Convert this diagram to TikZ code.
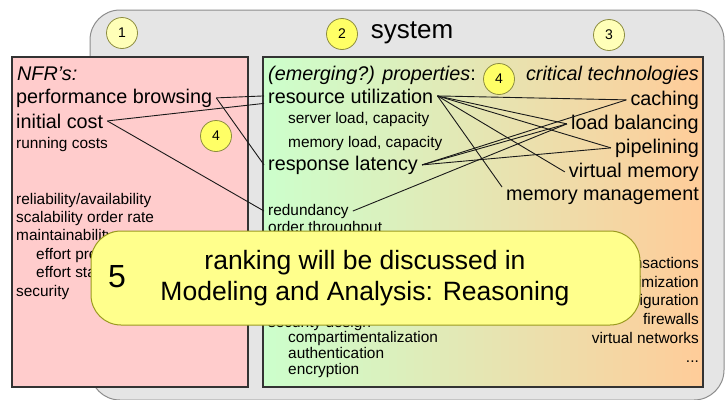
\documentclass[tikz,border=0pt]{standalone}
\usepackage{fontspec}
\setmainfont{Liberation Sans}
\definecolor{sysgrey}{HTML}{E5E5E5}
\definecolor{sysline}{HTML}{8C8C8C}
\definecolor{nfrpink}{HTML}{FFCCCC}
\definecolor{propgreen}{HTML}{CCFFCC}
\definecolor{techorange}{HTML}{FFCC99}
\definecolor{boxline}{HTML}{333333}
\definecolor{brightnum}{HTML}{FFFF66}
\definecolor{palenum}{HTML}{FFFFB8}
\definecolor{numline}{HTML}{8C8C40}
\definecolor{rankfill}{HTML}{FFFF8C}
\definecolor{rankline}{HTML}{9A9A20}

\begin{document}
\begin{tikzpicture}[x=1pt,y=-1pt]
\tikzstyle{every node}=[inner sep=0pt];
\tikzstyle{big}=[font=\fontsize{19.8}{22}\selectfont];
\tikzstyle{small}=[font=\fontsize{15.4}{17}\selectfont];
\tikzstyle{link}=[inner xsep=4pt];
\tikzstyle{num}=[circle,draw=numline,line width=0.8pt,minimum size=31pt,font=\fontsize{14}{16}\selectfont];
\tikzstyle{panel}=[draw=boxline,line width=1.2pt];
\tikzstyle{rel}=[draw=black!90,line width=0.9pt];
\useasboundingbox (0,0) rectangle (725,399);
% system frame
\node (sys) [draw=sysline,fill=sysgrey,line width=1pt,rounded corners=30pt,minimum width=634pt,minimum height=390pt] at (407,205) {};
\node (title) [anchor=base,font=\fontsize{26}{28}\selectfont] at (412,38) {system};
\node (one) [num,fill=palenum] at (122,33) {1};
\node (two) [num,fill=brightnum] at (342,34) {2};
\node (three) [num,fill=palenum] at (609,35) {3};
% the two panels
\node (nfrbox) [panel,fill=nfrpink,minimum width=236pt,minimum height=330pt] at (130,222) {};
\node (techbox) [panel,left color=propgreen,right color=techorange,minimum width=440pt,minimum height=330pt] at (483,222) {};
% NFR's
\node (nfrs) [big,anchor=base west] at (17,80) {\textit{NFR's:}};
\node (perf) [big,link,anchor=base west] at (12,103) {performance browsing};
\node (initcost) [big,link,anchor=base west] at (12,128) {initial cost};
\node (runcost) [small,anchor=base west] at (16,148) {running costs};
\node (reliab) [small,anchor=base west] at (16,204) {reliability/availability};
\node (scalab) [small,anchor=base west] at (16,222) {scalability order rate};
\node (maint) [small,anchor=base west] at (16,240) {maintainability};
\node (effprod) [small,anchor=base west] at (36,259) {effort pre};
\node (effstaff) [small,anchor=base west] at (36,277) {effort sta};
\node (secur) [small,anchor=base west] at (16,296) {security};
% properties
\node (props) [big,anchor=base west] at (268,80) {\textit{(emerging?) properties}:};
\node (resutil) [big,link,anchor=base west] at (264,103) {resource utilization};
\node (servload) [small,anchor=base west] at (288,123) {server load, capacity};
\node (memload) [small,anchor=base west] at (288,147) {memory load, capacity};
\node (resplat) [big,link,anchor=base west] at (264,170) {response latency};
\node (redund) [small,link,anchor=base west] at (264,215) {redundancy};
\node (orderthr) [small,anchor=base west] at (268,232) {order throughput};
\node (secdesign) [small,anchor=base west] at (268,327) {security design};
\node (compart) [small,anchor=base west] at (288,342) {compartimentalization};
\node (authent) [small,anchor=base west] at (288,358) {authentication};
\node (encrypt) [small,anchor=base west] at (288,374) {encryption};
% critical technologies
\node (crit) [big,anchor=base east] at (699,80) {\textit{critical technologies}};
\node (caching) [big,link,anchor=base east] at (703,105) {caching};
\node (loadbal) [big,link,anchor=base east] at (703,129) {load balancing};
\node (pipe) [big,link,anchor=base east] at (703,153) {pipelining};
\node (vmem) [big,link,anchor=base east] at (703,177) {virtual memory};
\node (memman) [big,link,anchor=base east] at (703,200) {memory management};
\node (transact) [small,anchor=base east] at (699,268) {transactions};
\node (optim) [small,anchor=base east] at (699,287) {optimization};
\node (config) [small,anchor=base east] at (699,305) {configuration};
\node (firew) [small,anchor=base east] at (699,324) {firewalls};
\node (vnet) [small,anchor=base east] at (699,343) {virtual networks};
\node (dots) [small,anchor=base east] at (699,362) {...};
\node (fourtop) [num,fill=brightnum] at (499,79) {4};
\node (fourleft) [num,fill=brightnum] at (216,136) {4};
% relations
\draw[rel] (perf.east) -- (resutil.west);
\draw[rel] (perf.east) -- (resplat.west);
\draw[rel] (initcost.east) -- (resutil.south west);
\draw[rel] (initcost.east) -- (redund.west);
\draw[rel] (resutil.east) -- (caching.west);
\draw[rel] (resutil.east) -- (loadbal.west);
\draw[rel] (resutil.east) -- (pipe.west);
\draw[rel] (resutil.east) -- (vmem.west);
\draw[rel] (resutil.east) -- (memman.north west);
\draw[rel] (resplat.east) -- (caching.west);
\draw[rel] (resplat.east) -- (loadbal.west);
\draw[rel] (resplat.east) -- (pipe.west);
\draw[rel] (redund.east) -- (loadbal.west);
% ranking remark
\node (rank) [draw=rankline,fill=rankfill,line width=1pt,rounded corners=30pt,minimum width=549pt,minimum height=94pt] at (365.5,278) {};
\node (five) [font=\fontsize{32}{34}\selectfont] at (117,277) {5};
\node (ranktext) [align=center,font=\fontsize{26.5}{31.6}\selectfont] at (365,278) {ranking will be discussed in\\Modeling and Analysis: Reasoning};
\end{tikzpicture}
\end{document}
